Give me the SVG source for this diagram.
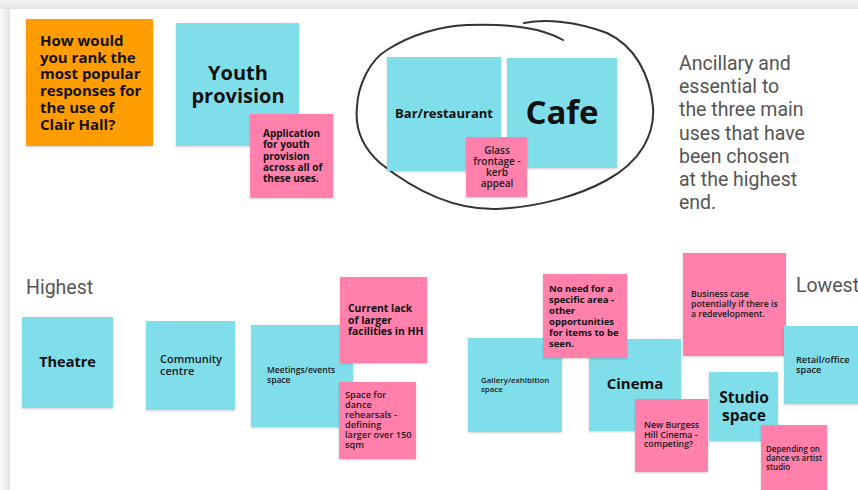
<svg xmlns="http://www.w3.org/2000/svg" width="858" height="490" viewBox="0 0 858 490">
<defs>
<linearGradient id="topg" x1="0" y1="0" x2="0" y2="1"><stop offset="0" stop-color="#f4f4f4"/><stop offset="1" stop-color="#e2e2e2"/></linearGradient>
<linearGradient id="leftg" x1="0" y1="0" x2="1" y2="0"><stop offset="0" stop-color="#fafafa"/><stop offset="1" stop-color="#e4e4e4"/></linearGradient>
<filter id="sh" x="-10%" y="-10%" width="120%" height="125%"><feDropShadow dx="0" dy="1" stdDeviation="0.8" flood-color="#000" flood-opacity="0.18"/></filter>
<style>
.cy{fill:#80deea;filter:url(#sh)}
.pk{fill:#ff80ab;filter:url(#sh)}
.or{fill:#ff9d00;filter:url(#sh)}
.t{font-family:"Open Sans","Liberation Sans",sans-serif;fill:#111;font-weight:700}
.s{font-family:"Open Sans","Liberation Sans",sans-serif;fill:#1a1a1a;font-weight:600}
.r{font-family:Roboto,"Liberation Sans",sans-serif;fill:#555;font-size:19.5px}
.c{text-anchor:middle}
</style>
</defs>
<rect x="0" y="0" width="858" height="490" fill="#fff"/>
<rect x="0" y="0" width="858" height="9" fill="url(#topg)"/>
<rect x="0" y="9" width="10" height="481" fill="url(#leftg)"/>

<g id="question">
<rect class="or" x="26" y="19" width="127" height="127"/>
<text class="t" font-size="15"><tspan x="40" y="46">How would</tspan><tspan x="40" y="62.7">you rank the</tspan><tspan x="40" y="79.4">most popular</tspan><tspan x="40" y="96.1">responses for</tspan><tspan x="40" y="112.8">the use of</tspan><tspan x="40" y="129.5">Clair Hall?</tspan></text>
</g>

<g id="youth">
<rect class="cy" x="176" y="23" width="123" height="123"/>
<text class="t c" font-size="20"><tspan x="238" y="80">Youth</tspan><tspan x="238" y="103">provision</tspan></text>
</g>
<g id="youth-note">
<rect class="pk" x="250" y="114" width="83" height="84"/>
<text class="t" font-size="10"><tspan x="263" y="137">Application</tspan><tspan x="263" y="148.3">for youth</tspan><tspan x="263" y="159.6">provision</tspan><tspan x="263" y="170.9">across all of</tspan><tspan x="263" y="182.2">these uses.</tspan></text>
</g>

<g id="circle">
<path d="M524,23 C545,19 575,21 607,33 C635,46 650,75 653,107 C655,135 640,162 607,180 C580,195 540,207 497,209 C460,210 420,195 380,163 C360,145 355,125 357,107 C358,85 370,60 387,50 C410,35 440,26 467,25 C495,24 520,26 537,30 C548,33 556,36 563,40" fill="none" stroke="#333" stroke-width="2" stroke-linecap="round" stroke-linejoin="round"/>
</g>

<g id="bar">
<rect class="cy" x="387" y="57" width="114" height="114"/>
<text class="t c" font-size="13" x="444" y="118">Bar/restaurant</text>
</g>
<g id="cafe">
<rect class="cy" x="507" y="58" width="110" height="110"/>
<text class="t c" font-size="33" x="562" y="124">Cafe</text>
</g>
<g id="glass-note">
<rect class="pk" x="466" y="137" width="61" height="60"/>
<text class="s c" font-size="10"><tspan x="497" y="154">Glass</tspan><tspan x="497" y="165">frontage -</tspan><tspan x="497" y="176">kerb</tspan><tspan x="497" y="187">appeal</tspan></text>
</g>

<g id="ancillary">
<text class="r"><tspan x="679" y="70">Ancillary and</tspan><tspan x="679" y="93.2">essential to</tspan><tspan x="679" y="116.4">the three main</tspan><tspan x="679" y="139.6">uses that have</tspan><tspan x="679" y="162.8">been chosen</tspan><tspan x="679" y="186">at the highest</tspan><tspan x="679" y="209.2">end.</tspan></text>
</g>

<g id="highest"><text class="r" x="26" y="294">Highest</text></g>
<g id="lowest"><text class="r" x="796" y="292">Lowest</text></g>

<g id="theatre">
<rect class="cy" x="22" y="317" width="91" height="91"/>
<text class="t c" font-size="14.5" x="67.5" y="367">Theatre</text>
</g>
<g id="community">
<rect class="cy" x="146" y="321" width="89" height="89"/>
<text class="s" font-size="11"><tspan x="160" y="363">Community</tspan><tspan x="160" y="375">centre</tspan></text>
</g>
<g id="meetings">
<rect class="cy" x="251" y="325" width="102" height="102"/>
<text class="s" font-size="8.5"><tspan x="267" y="373">Meetings/events</tspan><tspan x="267" y="383">space</tspan></text>
</g>
<g id="lack-note">
<rect class="pk" x="340" y="277" width="87" height="86"/>
<text class="t" font-size="10.4"><tspan x="348" y="312">Current lack</tspan><tspan x="348" y="323.5">of larger</tspan><tspan x="348" y="335">facilities in HH</tspan></text>
</g>
<g id="dance-note">
<rect class="pk" x="339" y="382" width="77" height="77"/>
<text class="s" font-size="9.2"><tspan x="345" y="398">Space for</tspan><tspan x="345" y="408">dance</tspan><tspan x="345" y="418">rehearsals -</tspan><tspan x="345" y="428">defining</tspan><tspan x="345" y="438">larger over 150</tspan><tspan x="345" y="448">sqm</tspan></text>
</g>

<g id="gallery">
<rect class="cy" x="468" y="338" width="94" height="94"/>
<text class="s" font-size="7.9"><tspan x="481" y="383">Gallery/exhibition</tspan><tspan x="481" y="392">space</tspan></text>
</g>
<g id="cinema">
<rect class="cy" x="589" y="339" width="92" height="92"/>
<text class="t c" font-size="15" x="635" y="389">Cinema</text>
</g>
<g id="noneed-note">
<rect class="pk" x="543" y="274" width="84" height="84"/>
<text class="t" font-size="9.5"><tspan x="549" y="292">No need for a</tspan><tspan x="549" y="303">specific area -</tspan><tspan x="549" y="314">other</tspan><tspan x="549" y="325">opportunities</tspan><tspan x="549" y="336">for items to be</tspan><tspan x="549" y="347">seen.</tspan></text>
</g>
<g id="business-note">
<rect class="pk" x="683" y="253" width="103" height="103"/>
<text class="s" font-size="8.7"><tspan x="691" y="297">Business case</tspan><tspan x="691" y="307">potentially if there is</tspan><tspan x="691" y="317">a redevelopment.</tspan></text>
</g>
<g id="retail">
<rect class="cy" x="784" y="326" width="80" height="78"/>
<text class="s" font-size="9.2"><tspan x="796" y="363">Retail/office</tspan><tspan x="796" y="373">space</tspan></text>
</g>
<g id="studio">
<rect class="cy" x="709" y="372" width="69" height="69"/>
<text class="t c" font-size="15.5"><tspan x="744" y="403">Studio</tspan><tspan x="744" y="421">space</tspan></text>
</g>
<g id="burgess-note">
<rect class="pk" x="635" y="399" width="73" height="73"/>
<text class="s" font-size="8.8"><tspan x="644" y="428">New Burgess</tspan><tspan x="644" y="437.5">Hill Cinema -</tspan><tspan x="644" y="447">competing?</tspan></text>
</g>
<g id="depending-note">
<rect class="pk" x="761" y="425" width="66" height="70"/>
<text class="s" font-size="8"><tspan x="766" y="452">Depending on</tspan><tspan x="766" y="461">dance vs artist</tspan><tspan x="766" y="470">studio</tspan></text>
</g>
</svg>
